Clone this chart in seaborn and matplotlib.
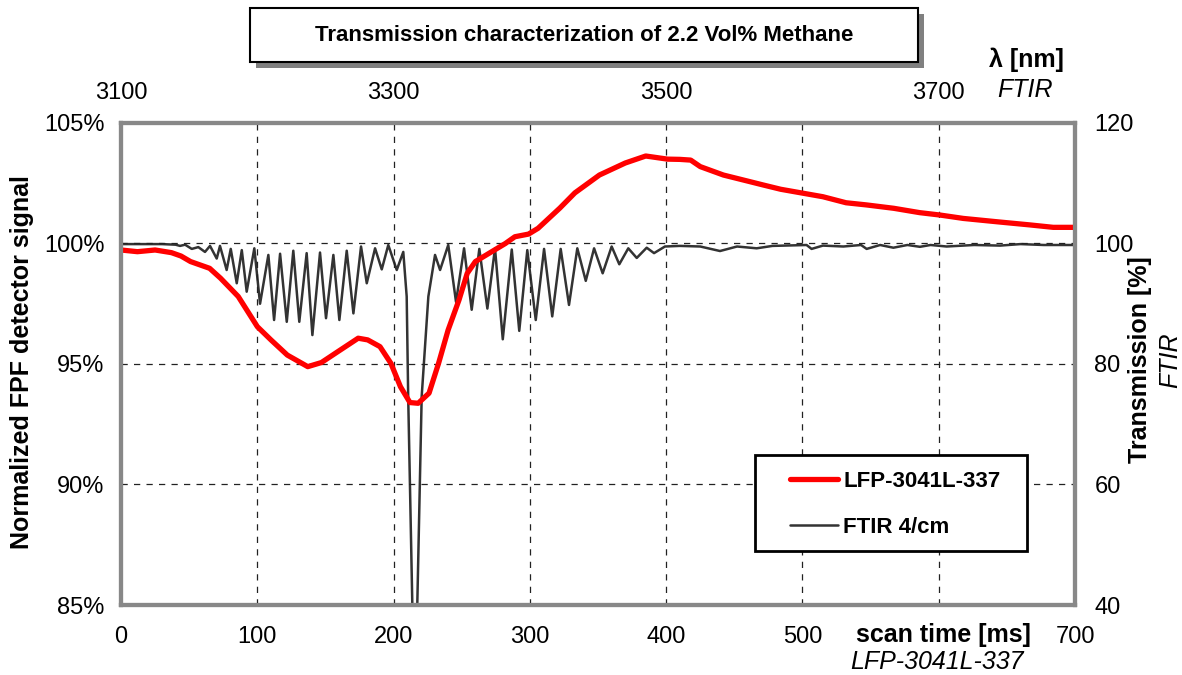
import seaborn as sns
import numpy as np
import matplotlib.pyplot as plt
from matplotlib.patches import Rectangle

# LFP-3041L-337 detector signal, normalized [%] vs scan time [ms]
lfp_ms = [0, 12, 25, 37, 44, 51, 65, 73, 86, 100, 110, 122, 137, 147, 159, 174, 181,
          190, 198, 205, 212, 218, 226, 233, 240, 248, 254, 260, 272, 282, 289, 299,
          306, 322, 333, 351, 370, 385, 401, 410, 418, 425, 442, 459, 471, 484, 501,
          515, 532, 547, 567, 586, 601, 618, 643, 667, 684, 700]
lfp_pct = [99.73, 99.66, 99.73, 99.62, 99.48, 99.25, 98.97, 98.56, 97.80, 96.55, 96.0,
           95.37, 94.89, 95.06, 95.51, 96.07, 96.0, 95.72, 95.03, 94.06, 93.4, 93.37,
           93.79, 95.03, 96.41, 97.66, 98.76, 99.25, 99.66, 100.0, 100.28, 100.39,
           100.63, 101.47, 102.1, 102.84, 103.34, 103.63, 103.5, 103.49, 103.46, 103.19,
           102.84, 102.6, 102.43, 102.25, 102.08, 101.94, 101.69, 101.6, 101.46, 101.28,
           101.18, 101.04, 100.9, 100.77, 100.67, 100.67]

# FTIR 4/cm transmission [%] (peaks and troughs)
ftir_ms = [0, 30, 40, 43.3, 47, 51.9, 56.7, 61.6, 65.3, 70.2, 72.6, 77.5, 80.5, 84.9,
           88.6, 92.2, 97.8, 102.0, 108.1, 112.3, 116.7, 121.6, 126.4, 130.8, 136.2,
           140.4, 146.0, 150.4, 155.8, 160.2, 165.6, 170.5, 176.1, 180.3, 186.4, 191.3,
           196.1, 202.3, 207.1, 209.6, 210.7, 215.5, 220.6, 225.5, 230.4, 234.1, 240.1,
           245.8, 251.7, 257.3, 262.9, 268.8, 274.4, 280.1, 286.7, 292.2, 298.1, 304.3,
           310.4, 316.4, 322.6, 328.7, 334.8, 341.0, 347.1, 353.4, 360.0, 365.6, 372.2,
           378.4, 385.7, 391.1, 399.1, 410, 425, 439.5, 452, 466.4, 478, 495, 503, 506.7,
           515, 530, 543, 547.1, 557, 566.7, 577, 586.2, 594, 605.8, 626, 645, 660, 677, 700]
ftir_t = [99.9, 99.9, 99.8, 99.6, 99.8, 99.1, 99.4, 98.6, 99.6, 97.5, 99.6, 95.6, 99.1, 93.4,
          98.9, 92.0, 99.2, 90.0, 98.1, 87.3, 98.3, 87.0, 98.8, 87.0, 98.4,
          84.8, 98.5, 87.6, 98.1, 87.3, 98.8, 88.4, 99.5, 93.4, 99.2, 95.7,
          99.75, 95.6, 98.6, 91.2, 74.6, 20, 74.6, 91.2, 98.1, 95.6, 99.75,
          90.3, 99.2, 89.0, 99.1, 89.2, 99.2, 84.1, 99.0, 85.5, 98.9, 87.3,
          99.1, 87.9, 99.1, 89.8, 99.2, 93.8, 99.2, 95.05, 99.5, 96.55, 99.2,
          97.6, 99.3, 98.4, 99.5, 99.6, 99.5, 98.75, 99.5, 99.2, 99.6, 99.7, 99.75, 99.1,
          99.65, 99.5, 99.75, 99.1, 99.75, 99.3, 99.75, 99.45, 99.75, 99.5, 99.75, 99.65, 99.9, 99.75, 99.75]

x_ticks = [0, 100, 200, 300, 400, 500, 600, 700]
x_labels = ["0", "100", "200", "300", "400", "500", "", "700"]
y_ticks = [85, 90, 95, 100, 105]
y2_ticks = [40, 60, 80, 100, 120]
wl_ticks = [3100, 3300, 3500, 3700]

sns.set_style("white")
plt.rcParams['font.family'] = ['Liberation Sans', 'DejaVu Sans']
plt.rcParams['text.color'] = 'black'
plt.rcParams['xtick.color'] = 'black'
plt.rcParams['ytick.color'] = 'black'

fig = plt.figure(figsize=(11.82, 6.75), dpi=100)
ax = fig.add_axes([0.1024, 0.1037, 0.8071, 0.7141])
ax2 = ax.twinx()

sns.lineplot(x=ftir_ms, y=ftir_t, ax=ax2, color="#333333", lw=1.8, label="FTIR 4/cm",
             legend=False, solid_joinstyle="round")
sns.lineplot(x=lfp_ms, y=lfp_pct, ax=ax, color="#ff0000", lw=3.8, label="LFP-3041L-337",
             legend=False, solid_joinstyle="round", solid_capstyle="round")

ax.set_zorder(ax2.get_zorder() + 1)
ax.patch.set_visible(False)

ax.set_xlim(0, 700)
ax.set_ylim(85, 105)
ax2.set_ylim(40, 120)
ax.set_xticks(x_ticks)
ax.set_xticklabels(x_labels)
ax.set_yticks(y_ticks)
ax.set_yticklabels([f"{v}%" for v in y_ticks])
ax2.set_yticks(y2_ticks)
ax.set_xlabel("")
ax.set_ylabel("")
ax2.set_ylabel("")

ax.grid(True, color="#222222", linestyle=(0, (5, 5)), lw=0.9)
for a in (ax, ax2):
    for s in a.spines.values():
        s.set_color("#888888")
        s.set_linewidth(3)
ax.tick_params(axis="both", length=0, labelsize=17)
ax.tick_params(axis="x", pad=15)
ax.tick_params(axis="y", pad=12)
ax2.tick_params(axis="y", length=0, labelsize=17, pad=14)

top = ax.secondary_xaxis("top", functions=(lambda x: x + 3100, lambda x: x - 3100))
top.set_xticks(wl_ticks)
top.tick_params(length=0, labelsize=17, pad=14)
top.spines["top"].set_visible(False)

# legend box drawn by hand, entries placed inside it
ax.add_patch(Rectangle((0.6646, 0.112), 0.2851, 0.199, transform=ax.transAxes,
                       facecolor="white", edgecolor="black", lw=2, zorder=5))
h1, l1 = ax.get_legend_handles_labels()
h2, l2 = ax2.get_legend_handles_labels()
leg = ax.legend(h1 + h2, l1 + l2, loc="upper left", bbox_to_anchor=(0.701, 0.279),
                frameon=False, handlelength=2.15, prop={"weight": "bold", "size": 16},
                borderpad=0, labelspacing=1.15, handletextpad=0.25, borderaxespad=0)
leg.set_zorder(6)

# title box with shadow
fig.patches.append(Rectangle((0.2165, 0.8992), 0.5651, 0.08, transform=fig.transFigure,
                             facecolor="#808080", edgecolor="none", zorder=1))
fig.patches.append(Rectangle((0.2115, 0.9081), 0.5651, 0.08, transform=fig.transFigure,
                             facecolor="white", edgecolor="black", lw=1.5, zorder=2))
fig.text(0.494, 0.948, "Transmission characterization of 2.2 Vol% Methane",
         ha="center", va="center", fontsize=16, fontweight="bold", zorder=3)

fig.text(0.019, 0.4637, "Normalized FPF detector signal", rotation=90, ha="center",
         va="center", fontsize=18, fontweight="bold")
fig.text(0.9645, 0.467, "Transmission [%]", rotation=90, ha="center", va="center",
         fontsize=18, fontweight="bold")
fig.text(0.990, 0.467, "FTIR", rotation=90, ha="center", va="center", fontsize=18,
         style="italic")
fig.text(0.868, 0.911, "λ [nm]", ha="center", va="center", fontsize=18, fontweight="bold")
fig.text(0.867, 0.867, "FTIR", ha="center", va="center", fontsize=18, style="italic")
fig.text(0.798, 0.059, "scan time [ms]", ha="center", va="center", fontsize=18,
         fontweight="bold")
fig.text(0.793, 0.019, "LFP-3041L-337", ha="center", va="center", fontsize=18,
         style="italic")

fig.savefig("out.png", dpi=100)
